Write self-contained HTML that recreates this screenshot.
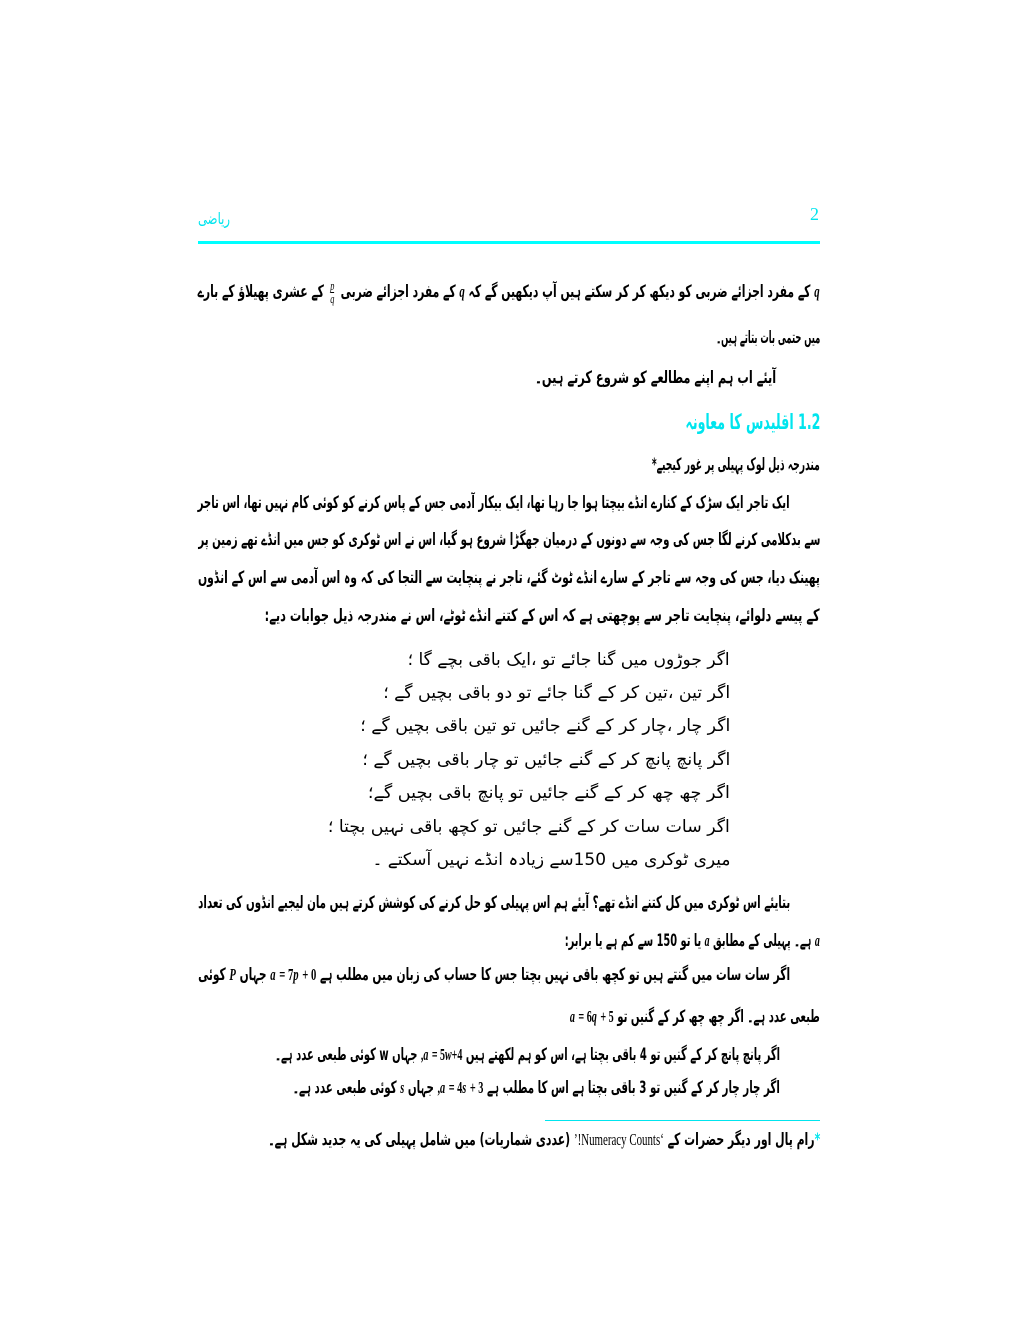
<!DOCTYPE html>
<html><head><meta charset="utf-8">
<style>
body{margin:0;background:#fff;}
#p{position:relative;width:1020px;height:1320px;background:#fff;overflow:hidden;font-family:"DejaVu Sans",sans-serif;color:#000;}
.l{position:absolute;direction:rtl;white-space:nowrap;font-size:17px;line-height:26px;height:26px;text-align:right;}
.l>span.t{display:inline-block;transform-origin:right center;}
.m{font-family:"Liberation Serif",serif;font-style:italic;font-size:17px;}
.n{font-family:"Liberation Serif",serif;font-size:17px;}
.b{font-weight:bold;}
.fr{display:inline-block;vertical-align:middle;font-family:"Liberation Serif",serif;font-style:italic;font-weight:normal;font-size:13px;line-height:12px;text-align:center;margin:0 4px;}
.fr i{display:block;font-style:italic;}
.fr i:first-child{border-bottom:1px solid #000;}
</style></head><body><div id="p">
<div class="l" style="left:198px;width:32px;top:206px;font-size:16px;color:#00e5ee"><span class="t">ریاضی</span></div>
<div style="position:absolute;left:810px;top:204px;font-size:18px;color:#00e5ee;font-family:'Liberation Serif',serif">2</div>
<div style="position:absolute;left:198px;top:241px;width:622px;height:3px;background:#00ffff"></div>

<div class="l b" style="left:198px;width:622px;top:279px"><span class="t"><span class="m">q</span> کے مفرد اجزائے ضربی کو دیکھ کر کر سکتے ہیں آپ دیکھیں گے کہ <span class="m">q</span> کے مفرد اجزائے ضربی <span class="fr"><i>p</i><i>q</i></span> کے عشری پھیلاؤ کے بارے</span></div>
<div class="l b" style="left:716px;width:104px;top:325px"><span class="t">میں حتمی بات بتاتے ہیں۔</span></div>
<div class="l b" style="left:535px;width:241px;top:365px"><span class="t">آیئے اب ہم اپنے مطالعے کو شروع کرتے ہیں۔</span></div>
<div class="l b" style="left:685px;width:135px;top:406px;font-size:21px;height:32px;line-height:32px;color:#00e5ee"><span class="t">1.2 اقلیدس کا معاونہ</span></div>
<div class="l b" style="left:652px;width:168px;top:452px"><span class="t">مندرجہ ذیل لوک پہیلی پر غور کیجیے*</span></div>

<div class="l b" style="left:198px;width:592px;top:490px"><span class="t">ایک تاجر ایک سڑک کے کنارے انڈے بیچتا ہوا جا رہا تھا، ایک بیکار آدمی جس کے پاس کرنے کو کوئی کام نہیں تھا، اس تاجر</span></div>
<div class="l b" style="left:198px;width:622px;top:527px"><span class="t">سے بدکلامی کرنے لگا جس کی وجہ سے دونوں کے درمیان جھگڑا شروع ہو گیا، اس نے اس ٹوکری کو جس میں انڈے تھے زمین پر</span></div>
<div class="l b" style="left:198px;width:622px;top:565px"><span class="t">پھینک دیا، جس کی وجہ سے تاجر کے سارے انڈے ٹوٹ گئے، تاجر نے پنچایت سے التجا کی کہ وہ اس آدمی سے اس کے انڈوں</span></div>
<div class="l b" style="left:265px;width:555px;top:603px"><span class="t">کے پیسے دلوائے، پنچایت تاجر سے پوچھتی ہے کہ اس کے کتنے انڈے ٹوٹے، اس نے مندرجہ ذیل جوابات دیے:</span></div>

<div class="l" style="left:408px;width:322px;top:647px"><span class="t">اگر جوڑوں میں گنا جائے تو ،ایک باقی بچے گا ؛</span></div>
<div class="l" style="left:383px;width:347px;top:680px"><span class="t">اگر تین ،تین کر کے گنا جائے تو دو باقی بچیں گے ؛</span></div>
<div class="l" style="left:360px;width:370px;top:713px"><span class="t">اگر چار ،چار کر کے گنے جائیں تو تین باقی بچیں گے ؛</span></div>
<div class="l" style="left:362px;width:368px;top:747px"><span class="t">اگر پانچ پانچ کر کے گنے جائیں تو چار باقی بچیں گے ؛</span></div>
<div class="l" style="left:368px;width:362px;top:780px"><span class="t">اگر چھ چھ کر کے گنے جائیں تو پانچ باقی بچیں گے؛</span></div>
<div class="l" style="left:328px;width:402px;top:814px"><span class="t">اگر سات سات کر کے گنے جائیں تو کچھ باقی نہیں بچتا ؛</span></div>
<div class="l" style="left:372px;width:358px;top:847px"><span class="t">میری ٹوکری میں 150سے زیادہ انڈے نہیں آسکتے ۔</span></div>

<div class="l b" style="left:198px;width:592px;top:890px"><span class="t">بتایئے اس ٹوکری میں کل کتنے انڈے تھے؟ آیئے ہم اس پہیلی کو حل کرنے کی کوشش کرتے ہیں مان لیجیے انڈوں کی تعداد</span></div>
<div class="l b" style="left:565px;width:255px;top:928px"><span class="t"><span class="m">a</span> ہے۔ پہیلی کے مطابق <span class="m">a</span> یا تو 150 سے کم ہے یا برابر:</span></div>
<div class="l b" style="left:198px;width:592px;top:962px"><span class="t">اگر سات سات میں گنتے ہیں تو کچھ باقی نہیں بچتا جس کا حساب کی زبان میں مطلب ہے <span class="m">a</span> <span class="n">= 7</span><span class="m">p</span> <span class="n">+ 0</span> جہاں <span class="m">P</span> کوئی</span></div>
<div class="l b" style="left:570px;width:250px;top:1004px"><span class="t">طبعی عدد ہے۔ اگر چھ چھ کر کے گنیں تو <span class="m">a</span> <span class="n">= 6</span><span class="m">q</span> <span class="n">+ 5</span></span></div>
<div class="l b" style="left:275px;width:505px;top:1042px"><span class="t">اگر پانچ پانچ کر کے گنیں تو 4 باقی بچتا ہے، اس کو ہم لکھتے ہیں <span class="m">a</span> <span class="n">= 5</span><span class="m">w</span><span class="n">+4,</span> جہاں w کوئی طبعی عدد ہے۔</span></div>
<div class="l b" style="left:293px;width:487px;top:1075px"><span class="t">اگر چار چار کر کے گنیں تو 3 باقی بچتا ہے اس کا مطلب ہے <span class="m">a</span> <span class="n">= 4</span><span class="m">s</span> <span class="n">+ 3,</span> جہاں <span class="m">s</span> کوئی طبعی عدد ہے۔</span></div>

<div style="position:absolute;left:545px;top:1120px;width:275px;height:1px;background:#00e5ee"></div>
<div class="l b" style="left:268px;width:552px;top:1127px"><span class="t"><span style="color:#00e5ee">*</span>رام پال اور دیگر حضرات کے <span class="n" style="font-weight:normal">‘Numeracy Counts!’</span> (عددی شماریات) میں شامل پہیلی کی یہ جدید شکل ہے۔</span></div>
</div>
<script>
document.querySelectorAll('.l').forEach(function(d){
  var s=d.querySelector('span.t'); var w=s.getBoundingClientRect().width; var t=d.clientWidth;
  if(w>0){s.style.transform='scaleX('+(t/w)+')';}
});
</script>
</body></html>
